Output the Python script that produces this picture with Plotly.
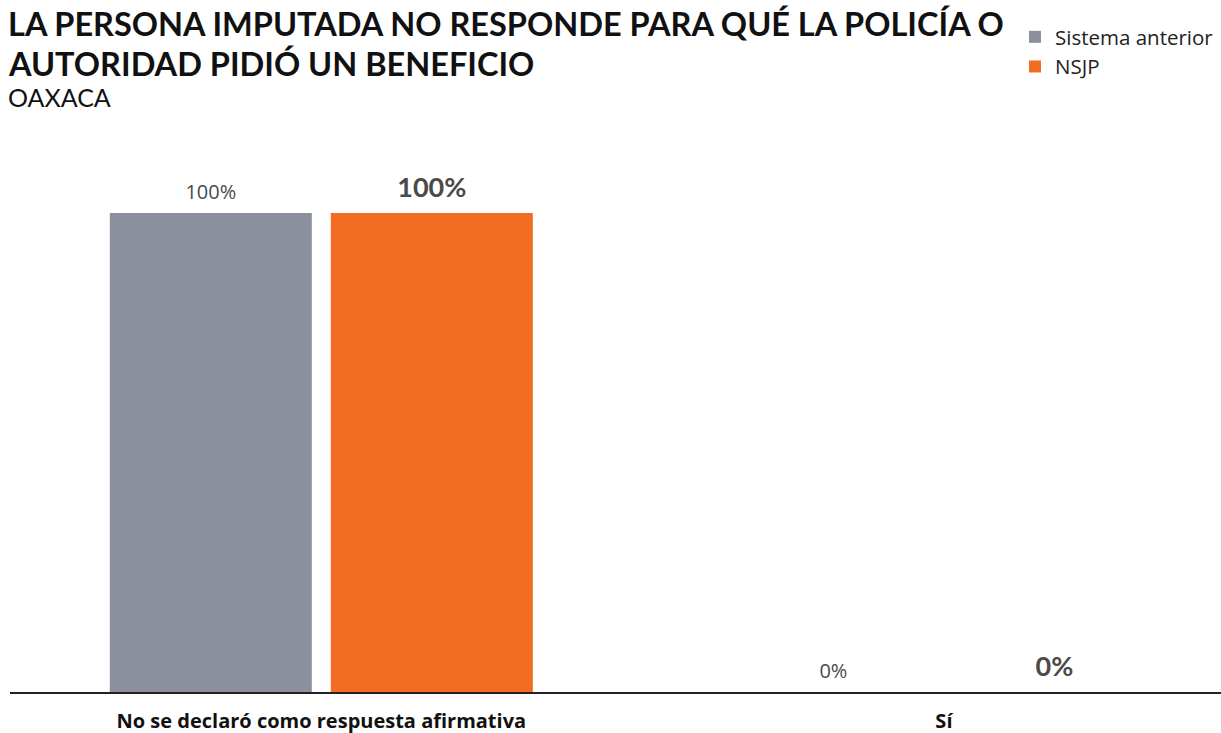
import plotly.graph_objects as go

categories = ["No se declaró como respuesta afirmativa", "Sí"]
sistema_anterior = [100, 0]
nsjp = [100, 0]
series_names = ["Sistema anterior", "NSJP"]
title_line1 = "LA PERSONA IMPUTADA NO RESPONDE PARA QUÉ LA POLICÍA O"
title_line2 = "AUTORIDAD PIDIÓ UN BENEFICIO"
subtitle = "OAXACA"

GRAY = "#8C909C"
ORANGE = "#F26C22"
FONT = "Lato"
FONT2 = "Open Sans"
LABEL = "#4a4a4a"

W, H = 1221, 733

fig = go.Figure()
fig.add_trace(go.Bar(
    name=series_names[0], x=categories, y=sistema_anterior,
    offsetgroup="a", marker=dict(color=GRAY, line=dict(width=0)),
    hoverinfo="skip",
))
fig.add_trace(go.Bar(
    name=series_names[1], x=categories, y=nsjp,
    offsetgroup="b", marker=dict(color=ORANGE, line=dict(width=0)),
    hoverinfo="skip",
))
# value labels, aligned with the grouped bars
fig.add_trace(go.Scatter(
    x=categories, y=sistema_anterior, offsetgroup="a",
    mode="markers+text", marker=dict(size=13, opacity=0),
    text=[f"{v}%" for v in sistema_anterior], textposition="top center",
    textfont=dict(family=FONT2, size=20, color=LABEL),
    showlegend=False, cliponaxis=False, hoverinfo="skip",
))
fig.add_trace(go.Scatter(
    x=categories, y=nsjp, offsetgroup="b",
    mode="markers+text", marker=dict(size=13, opacity=0),
    text=[f"<b>{v}%</b>" for v in nsjp], textposition="top center",
    textfont=dict(family=FONT, size=27, color=LABEL),
    showlegend=False, cliponaxis=False, hoverinfo="skip",
))

fig.update_layout(
    width=W, height=H,
    paper_bgcolor="white", plot_bgcolor="white",
    margin=dict(l=10, r=0, t=140, b=41, autoexpand=False),
    barmode="group", bargap=0.29, bargroupgap=0.086,
    scattermode="group", scattergap=0.29,
    font=dict(family=FONT, color="#222222"),
    showlegend=True,
    legend=dict(
        xref="container", yref="container", x=1015/W, y=1-17/H,
        xanchor="left", yanchor="top",
        font=dict(family=FONT2, size=20.5, color="#222222"),
        bgcolor="rgba(0,0,0,0)", itemwidth=30, tracegroupgap=0,
    ),
    xaxis=dict(
        type="category", range=[-0.5, 1.445],
        showline=True, linecolor="#222222", linewidth=2,
        showgrid=False, zeroline=False, ticks="",
        ticklabelstandoff=10,
        tickfont=dict(family=FONT2, size=20, color="#111111", weight="bold"),
    ),
    yaxis=dict(
        range=[0, 100 * (692 - 140) / (692 - 213)],
        visible=False, showgrid=False, zeroline=False,
    ),
    annotations=[
        dict(text=f"<b>{title_line1}</b>", xref="paper", yref="paper",
             x=0, y=1, xanchor="left", yanchor="middle",
             xshift=-4, yshift=140 - 23.5,
             showarrow=False, font=dict(family=FONT, size=32.5, color="#111111")),
        dict(text=f"<b>{title_line2}</b>", xref="paper", yref="paper",
             x=0, y=1, xanchor="left", yanchor="middle",
             xshift=-4, yshift=140 - 63,
             showarrow=False, font=dict(family=FONT, size=32.5, color="#111111")),
        dict(text=subtitle, xref="paper", yref="paper",
             x=0, y=1, xanchor="left", yanchor="middle",
             xshift=-4, yshift=140 - 97,
             showarrow=False, font=dict(family=FONT, size=25, color="#111111")),
    ],
)

# remove the browser's default 8px page margin so the figure fills the window
fig.write_html(
    "out.html",
    config={"displayModeBar": False},
    post_script="document.body.style.margin='0';document.body.style.overflow='hidden';",
)
